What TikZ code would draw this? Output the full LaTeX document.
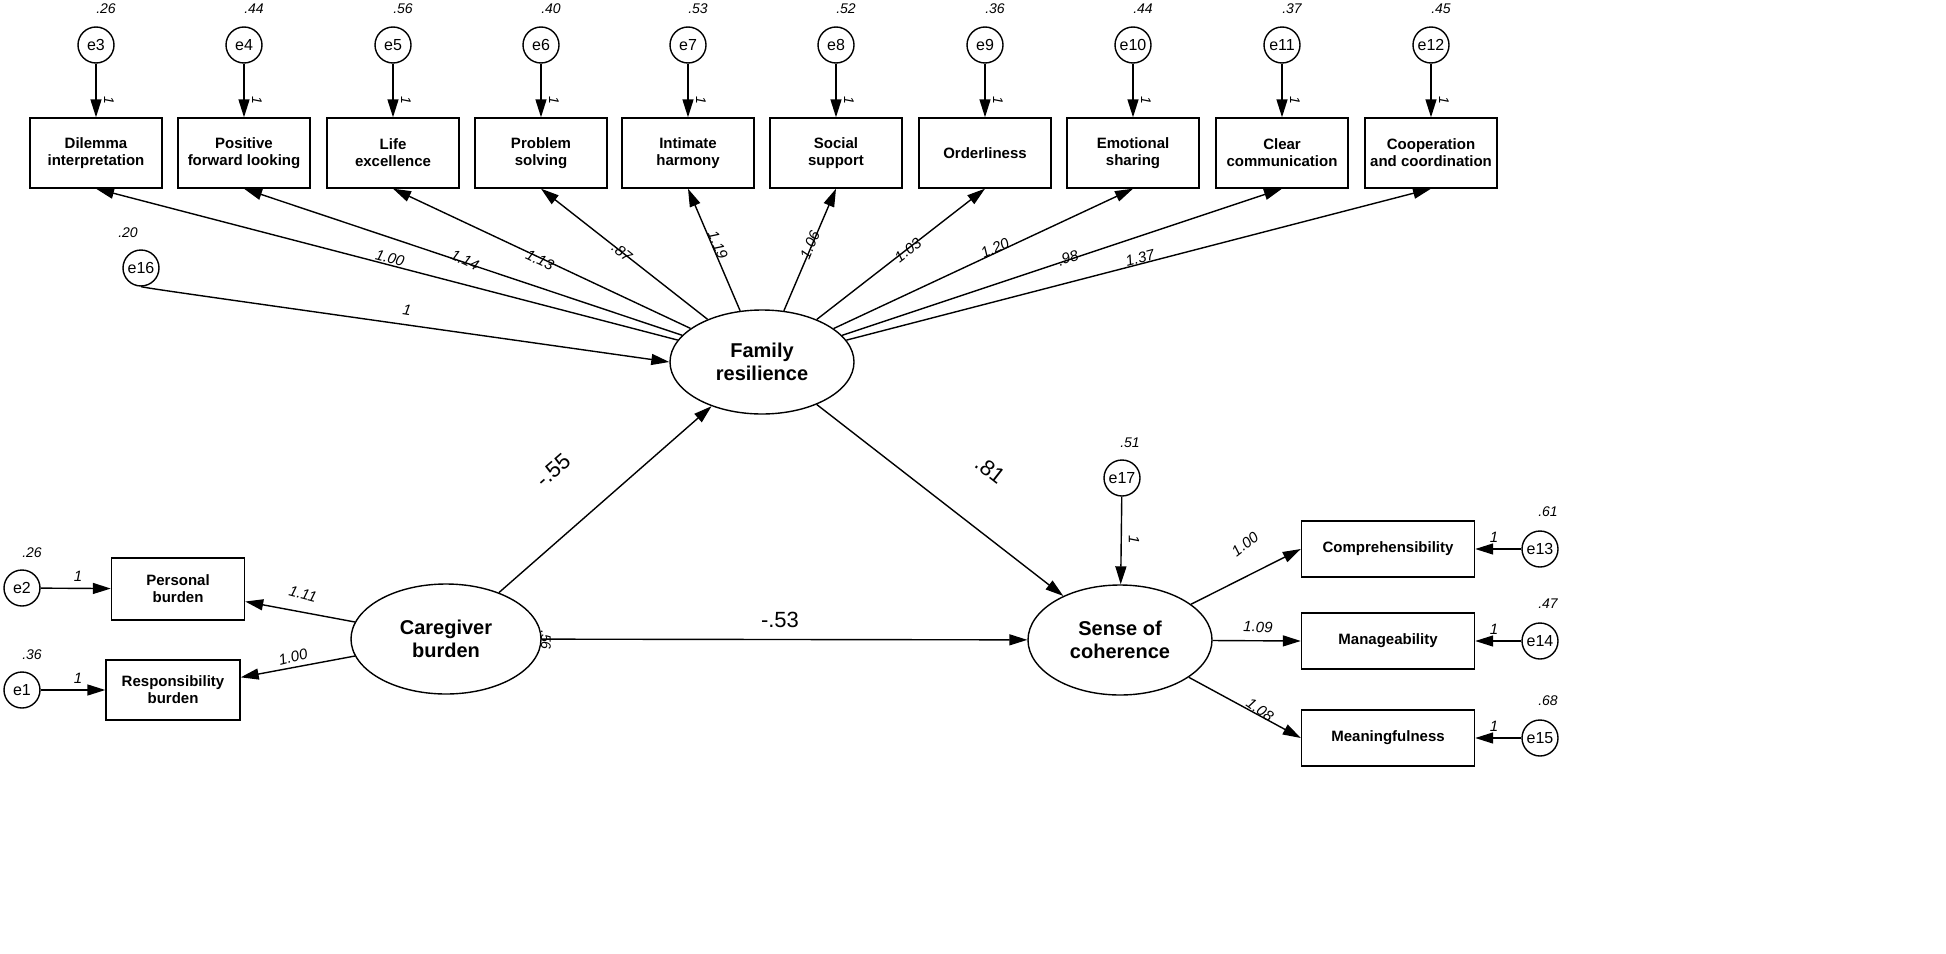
\documentclass[tikz,border=0pt]{standalone}
\usepackage{fontspec}
\setmainfont{Liberation Sans}
\usetikzlibrary{arrows.meta,shapes.geometric}
\begin{document}
\begin{tikzpicture}[x=1pt,y=-1pt,
 box/.style={draw,line width=1.4pt,minimum width=132pt,minimum height=70pt,align=center,font=\fontsize{15}{17}\selectfont\bfseries,inner sep=1pt},
 rbox/.style={draw,line width=1.4pt,minimum width=173pt,minimum height=56pt,align=center,font=\fontsize{15}{17}\selectfont\bfseries},
 err/.style={draw,circle,line width=1.4pt,minimum size=36pt,inner sep=0pt,font=\fontsize{16}{18}\selectfont},
 lat/.style={draw,ellipse,line width=1.4pt,align=center,font=\fontsize{20}{23}\selectfont\bfseries},
 arr/.style={line width=1.4pt,-{Triangle[length=18pt,width=11pt]}},
 lab/.style={font=\fontsize{14}{16}\selectfont\itshape,inner sep=0pt},
 num/.style={font=\fontsize{15}{17}\selectfont\itshape,inner sep=0pt},
 big/.style={font=\fontsize{22}{24}\selectfont,inner sep=0pt}]
\useasboundingbox (0,0) rectangle (1946,953);
\foreach \i/\x/\t/\v in {1/96/Dilemma\\interpretation/.26,2/244/Positive\\forward looking/.44,3/393/Life\\excellence/.56,4/541/Problem\\solving/.40,5/688/Intimate\\harmony/.53,6/836/Social\\support/.52,7/985/Orderliness/.36,8/1133/Emotional\\sharing/.44,9/1282/Clear\\communication/.37,10/1431/Cooperation\\and coordination/.45}{
  \node[box] (b\i) at (\x,153) {\t};
  \pgfmathtruncatemacro{\e}{\i+2}
  \node[err] (e\e) at (\x,45) {e\e};
  \node[lab] (v\e) at (\x+10,9) {\v};
  \draw[arr] (e\e) -- (b\i);
  \node[lab,rotate=-90] (o\e) at (\x+13,100) {1};
}
\node[lat,minimum width=184pt,minimum height=104pt] (FR) at (762,362) {Family\\resilience};
\node[lat,minimum width=190pt,minimum height=110pt] (CB) at (446,639) {Caregiver\\burden};
\node[lat,minimum width=184pt,minimum height=110pt] (SC) at (1120,640) {Sense of\\coherence};
\foreach \i in {1,...,10}{\draw[arr] (FR) -- (b\i.south);}
\foreach \x/\y/\t/\i in {390/258/1.00/1,465/260/1.14/3,540/260/1.13/3,622/252/.87/4,718/245/1.19/5,810/245/1.06/6,908/250/1.03/7,995/248/1.20/8,1068/258/.98/9,1140/258/1.37/10}{
 \pgfmathsetmacro{\bx}{{96,244,393,541,688,836,985,1133,1282,1431}[\i-1]}
 \pgfmathsetmacro{\ang}{atan(174/(\bx-762))}
 \node[num,rotate=\ang] (l\i) at (\x,\y) {\t};
}
\node[err] (e16) at (141,268) {e16};
\node[lab] (v16) at (128,233) {.20};
\draw[arr] (e16.south) .. controls (160,290) .. (FR.west);
\node[num,rotate=-9] (l16) at (407,310) {1};
% caregiver
\node[box,minimum width=133pt,minimum height=62pt] (PB) at (178,589) {Personal\\burden};
\node[box,minimum width=134pt,minimum height=60pt] (RB) at (173,690) {Responsibility\\burden};
\node[err] (e2) at (22,588) {e2};
\node[err] (e1) at (22,690) {e1};
\node[lab] (v2) at (32,553) {.26};
\node[lab] (v1) at (32,655) {.36};
\draw[arr] (e2) -- (PB); \node[num] at (78,576) {1};
\draw[arr] (e1) -- (RB); \node[num] at (78,678) {1};
\draw[arr] (CB) -- (PB); \node[num,rotate=-15] at (303,594) {1.11};
\draw[arr] (CB) -- (RB); \node[num,rotate=14] at (293,657) {1.00};
\draw[arr] (CB) -- (FR); \node[big,rotate=41] at (553,470) {-.55};
\draw[arr] (FR) -- (SC); \node[big,rotate=-38] at (990,470) {.81};
\draw[arr] (CB) -- (SC); \node[big] at (780,620) {-.53};
\node[lab,rotate=-90] at (546,640) {.56};
\node[err] (e17) at (1122,478) {e17};
\node[lab] (v17) at (1130,443) {.51};
\draw[arr] (e17) -- (SC); \node[num,rotate=-90] at (1134,540) {1};
% right
\node[rbox] (C1) at (1388,549) {Comprehensibility};
\node[rbox] (C2) at (1388,641) {Manageability};
\node[rbox] (C3) at (1388,738) {Meaningfulness};
\foreach \k/\y/\v in {13/549/.61,14/641/.47,15/738/.68}{
 \node[err] (e\k) at (1540,\y) {e\k};
 \node[lab] at (1548,\y-37) {\v};
 \node[num] at (1494,\y-12) {1};
}
\draw[arr] (e13) -- (C1); \draw[arr] (e14) -- (C2); \draw[arr] (e15) -- (C3);
\draw[arr] (SC) -- (C1.west); \node[num,rotate=38] at (1245,544) {1.00};
\draw[arr] (SC) -- (C2.west); \node[num,rotate=-2] at (1258,627) {1.09};
\draw[arr] (SC) -- (C3.west); \node[num,rotate=-36] at (1260,710) {1.08};
\end{tikzpicture}
\end{document}
